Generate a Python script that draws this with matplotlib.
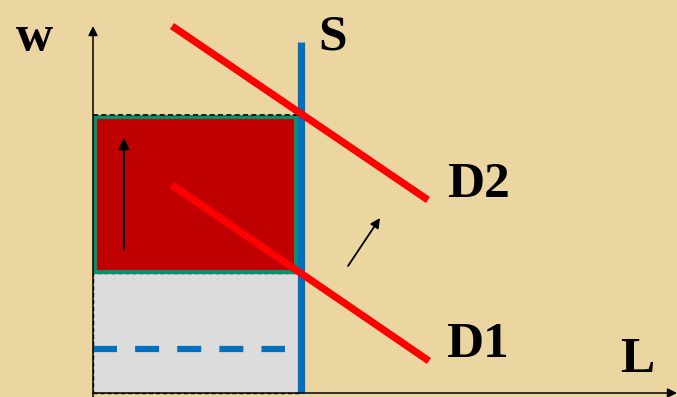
import matplotlib
matplotlib.use("Agg")
import matplotlib.pyplot as plt
from matplotlib.patches import Rectangle

# ---- diagram data (labour market units: L to the right, w upward) ----
axis_x_end = 584
axis_y_end = 367
supply_L = 208                  # vertical supply S
supply_top = 351
d1_L = [79, 336]
d1_w = [208, 32]
d2_L = [79, 335]
d2_w = [367, 193]
wage_low = 120                  # w where D1 meets S
wage_high = 278                 # w where D2 meets S
rect_right = 203
min_wage = 44                   # blue dashed level
min_wage_end = 192
up_arrow_L = 31
up_arrow_w = [144, 255]
shift_arrow_L = [255, 287]
shift_arrow_w = [127, 175]
labels = ["w", "S", "D2", "D1", "L"]
label_L = [-59, 240, 385, 384, 544]
label_w = [343, 343, 196, 36, 21]

bg = "#EBD6A2"
fig = plt.figure(figsize=(6.77, 3.97), dpi=100, facecolor=bg)
ax = fig.add_axes([0, 0, 1, 1])
ax.set_facecolor(bg)
ax.set_xlim(-93, 584)
ax.set_ylim(-4, 393)
ax.axis("off")

# grey lower rectangle
ax.add_patch(Rectangle((0, 0), supply_L, wage_low, facecolor="#DCDCDC",
                       edgecolor="black", linestyle=(0, (3, 2)), linewidth=1.0, zorder=1))
# red upper rectangle with green border
ax.add_patch(Rectangle((2, wage_low + 1), rect_right - 2, wage_high - wage_low - 3,
                       facecolor="#C00000", edgecolor="#07906E", linewidth=3.0, zorder=2))
# dashed black line at the high wage
ax.plot([0, supply_L], [wage_high, wage_high], color="black", linewidth=1.2,
        linestyle=(0, (3, 2)), zorder=3)

# blue dashed minimum level
ax.plot([0, min_wage_end], [min_wage, min_wage], color="#0070C0", linewidth=4.5,
        linestyle=(0, (3.84, 2.9)), solid_capstyle="butt", dash_capstyle="butt", zorder=3)

# supply line
ax.plot([supply_L, supply_L], [0, supply_top], color="#0070C0", linewidth=5.2,
        solid_capstyle="butt", zorder=4)

# demand lines
ax.plot(d1_L, d1_w, color="#FF0000", linewidth=5.2, solid_capstyle="butt", zorder=5)
ax.plot(d2_L, d2_w, color="#FF0000", linewidth=5.2, solid_capstyle="butt", zorder=5)

# axes
arrow_kw = dict(arrowstyle="-|>", color="black", linewidth=1.1, mutation_scale=14,
                shrinkA=0, shrinkB=0)
ax.annotate("", xy=(0, axis_y_end), xytext=(0, -4), arrowprops=arrow_kw, zorder=6)
ax.annotate("", xy=(axis_x_end, 0), xytext=(0, 0), arrowprops=arrow_kw, zorder=6)

# small arrows
ax.annotate("", xy=(up_arrow_L, up_arrow_w[1]), xytext=(up_arrow_L, up_arrow_w[0]),
            arrowprops=dict(arrowstyle="-|>", color="black", linewidth=1.5,
                            mutation_scale=16, shrinkA=0, shrinkB=0), zorder=6)
ax.annotate("", xy=(shift_arrow_L[1], shift_arrow_w[1]),
            xytext=(shift_arrow_L[0], shift_arrow_w[0]),
            arrowprops=dict(arrowstyle="-|>", color="black", linewidth=1.3,
                            mutation_scale=14, shrinkA=0, shrinkB=0), zorder=6)

for t, x, y in zip(labels, label_L, label_w):
    ax.text(x, y, t, fontsize=37, fontweight="bold", family="Liberation Serif",
            ha="center", va="baseline", color="black", zorder=7)

fig.savefig("out.png", dpi=100, facecolor=bg)
